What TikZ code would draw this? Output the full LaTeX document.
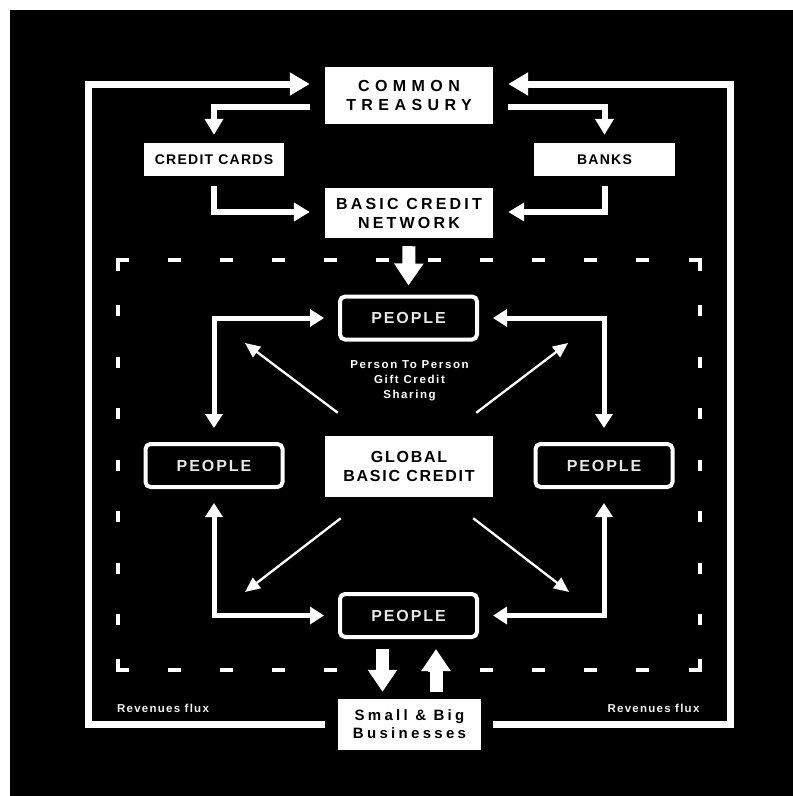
\documentclass[tikz,border=0pt]{standalone}
\usepackage{fontspec}
\setmainfont{Liberation Sans}
\usetikzlibrary{arrows.meta,calc}
\definecolor{peoplegray}{HTML}{E6E6E6}
\definecolor{softwhite}{HTML}{F2F2F2}
\begin{document}
\begin{tikzpicture}[x=1pt,y=-1pt,
  wbox/.style={fill=white,text=black,inner sep=0pt,align=center},
  bigtext/.style={font=\bfseries\fontsize{16}{19}\selectfont\addfontfeatures{LetterSpace=#1}},
  smalltext/.style={font=\bfseries\fontsize{14}{16}\selectfont\addfontfeatures{LetterSpace=9}},
  pbox/.style={draw=white,line width=4pt,fill=black,rounded corners=5pt,text=peoplegray,inner sep=0pt,
    minimum width=137pt,minimum height=43pt,
    font=\bfseries\fontsize{16}{18}\selectfont\addfontfeatures{LetterSpace=12}},
  loopline/.style={white,line width=7pt,-{Triangle[length=20pt,width=22pt]}},
  midarrow/.style={white,line width=6pt,-{Triangle[length=16pt,width=18pt]}},
  peoplearrow/.style={white,line width=5pt,{Triangle[length=14pt,width=17pt]}-{Triangle[length=14pt,width=17pt]}},
  thinarrow/.style={white,line width=2.3pt,-{Triangle[length=15pt,width=13pt]}},
  fatarrow/.style={white,line width=13pt,-{Triangle[length=22pt,width=28pt]}},
  dashseg/.style={white,line width=4pt},
  labeltext/.style={text=softwhite,inner sep=0pt,font=\bfseries\fontsize{11.5}{13}\selectfont\addfontfeatures{LetterSpace=11}}
]
\useasboundingbox (0,0) rectangle (793,796);
\fill[white] (0,0) rectangle (793,796);
\fill[black] (10,10) rectangle (793,796);

% boxes
\node[wbox,bigtext=34,minimum width=168pt,minimum height=57pt] (treasury) at (409,95.5) {COMMON\\TREASURY};
\node[wbox,bigtext=20,minimum width=168pt,minimum height=50pt] (bcn) at (409,213) {BASIC CREDIT\\NETWORK};
\node[wbox,smalltext,minimum width=140pt,minimum height=33pt] (cards) at (214,159.5) {CREDIT CARDS};
\node[wbox,smalltext,minimum width=141pt,minimum height=33pt] (banks) at (604.5,159.5) {BANKS};
\node[wbox,bigtext=11,minimum width=168pt,minimum height=61pt] (global) at (409,466.5) {GLOBAL\\BASIC CREDIT};
\node[wbox,font=\bfseries\fontsize{15}{18}\selectfont\addfontfeatures{LetterSpace=22},minimum width=143pt,minimum height=51pt] (biz) at (409.5,724.5) {Small \& Big\\Businesses};

\node[pbox] (ptop) at (408.5,318) {PEOPLE};
\node[pbox] (pleft) at (214,465.5) {PEOPLE};
\node[pbox] (pright) at (604,465.5) {PEOPLE};
\node[pbox] (pbot) at (408.5,615.5) {PEOPLE};

\node[text=white,inner sep=0pt,align=center,font=\bfseries\fontsize{11.5}{15}\selectfont\addfontfeatures{LetterSpace=14}] (p2p) at (409.5,381) {Person To Person\\Gift Credit\\Sharing};

\node[labeltext] (revl) at (163,708) {Revenues flux};
\node[labeltext] (revr) at (653.5,708) {Revenues flux};

% dashed frame
\draw[dashseg] (118,271) -- (118,260) -- (129,260);
\draw[dashseg] (689,260) -- (700,260) -- (700,271);
\draw[dashseg] (118,659) -- (118,670) -- (129,670);
\draw[dashseg] (689,670) -- (700,670) -- (700,659);
\foreach \k in {0,...,9}{
  \draw[dashseg] ({168+52*\k},260) -- ({181+52*\k},260);
  \draw[dashseg] ({168+52*\k},670) -- ({181+52*\k},670);
}
\foreach \k in {0,...,6}{
  \draw[dashseg] (118,{305+51.5*\k}) -- (118,{316+51.5*\k});
  \draw[dashseg] (700,{305+51.5*\k}) -- (700,{316+51.5*\k});
}

% outer revenue loop
\coordinate (lc) at (88.5,400);
\coordinate (rc) at (730,400);
\draw[loopline] ([xshift=-13pt]biz.west) -| (lc) |- ([xshift=-15pt,yshift=11.5pt]treasury.west);
\draw[loopline] ([xshift=12pt]biz.east) -| (rc) |- ([xshift=15pt,yshift=11.5pt]treasury.east);

% treasury distribution
\draw[midarrow] ([xshift=-15pt,yshift=-11.5pt]treasury.west) -| ([yshift=8pt]cards.north);
\draw[midarrow] ([xshift=15pt,yshift=-11.5pt]treasury.east) -| ([yshift=8pt]banks.north);
\draw[midarrow] ([yshift=-10pt]cards.south) |- ([xshift=-15pt,yshift=1pt]bcn.west);
\draw[midarrow] ([yshift=-10pt]banks.south) |- ([xshift=15pt,yshift=1pt]bcn.east);

% network to people
\draw[fatarrow] ([yshift=-8pt]bcn.south) -- ([yshift=9pt]ptop.north);

% people links
\draw[peoplearrow] ([xshift=-14pt]ptop.west) -| ([yshift=14pt]pleft.north);
\draw[peoplearrow] ([xshift=14pt]ptop.east) -| ([yshift=14pt]pright.north);
\draw[peoplearrow] ([yshift=-14pt]pleft.south) |- ([xshift=-14pt]pbot.west);
\draw[peoplearrow] ([yshift=-14pt]pright.south) |- ([xshift=14pt]pbot.east);

% diagonal gift arrows
\coordinate (dtl) at (245,343);
\coordinate (dtr) at (568,343);
\coordinate (dbl) at (245,592);
\coordinate (dbr) at (569,592);
\draw[thinarrow] ([xshift=13pt,yshift=23pt]global.north west) -- (dtl);
\draw[thinarrow] ([xshift=-17pt,yshift=23pt]global.north east) -- (dtr);
\draw[thinarrow] ([xshift=16pt,yshift=-21pt]global.south west) -- (dbl);
\draw[thinarrow] ([xshift=-20pt,yshift=-21pt]global.south east) -- (dbr);

% people <-> businesses
\draw[fatarrow] ([xshift=-26pt,yshift=-10pt]pbot.south) -- ([xshift=-27pt,yshift=7pt]biz.north);
\draw[fatarrow] ([xshift=26.5pt,yshift=7pt]biz.north) -- ([xshift=27.5pt,yshift=-10pt]pbot.south);
\end{tikzpicture}
\end{document}
